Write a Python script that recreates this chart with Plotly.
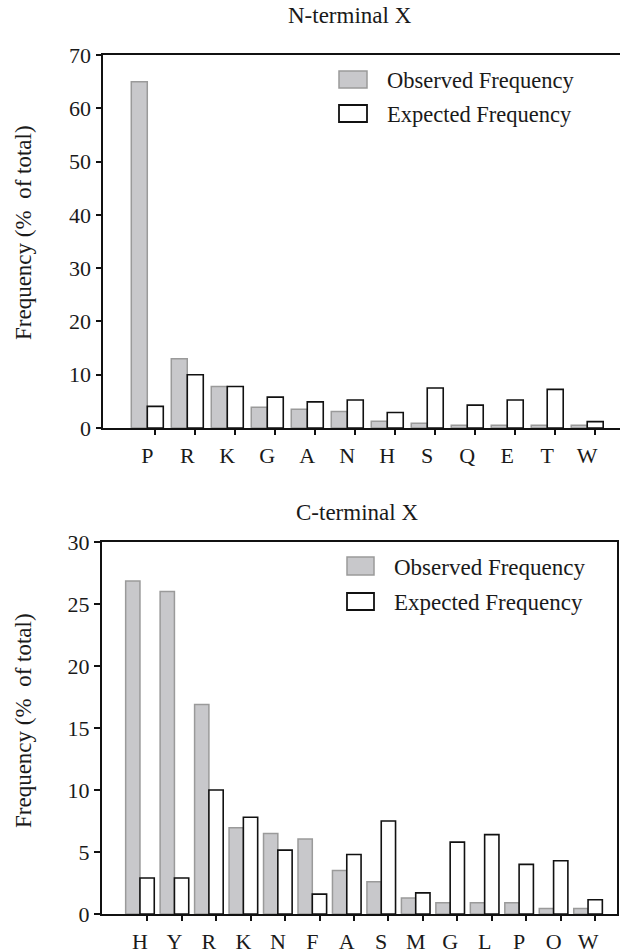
import plotly.graph_objects as go

# ---- data ----
n_cats = ["P", "R", "K", "G", "A", "N", "H", "S", "Q", "E", "T", "W"]
n_observed = [65, 13, 7.8, 3.9, 3.5, 3.1, 1.25, 0.9, 0.5, 0.5, 0.5, 0.5]
n_expected = [4.05, 10, 7.8, 5.8, 4.9, 5.25, 2.9, 7.5, 4.3, 5.25, 7.25, 1.2]

c_cats = ["H", "Y", "R", "K", "N", "F", "A", "S", "M", "G", "L", "P", "O", "W"]
c_observed = [26.85, 26, 16.9, 6.95, 6.5, 6.05, 3.5, 2.6, 1.3, 0.9, 0.9, 0.9, 0.45, 0.45]
c_expected = [2.9, 2.9, 10, 7.8, 5.15, 1.6, 4.8, 7.5, 1.7, 5.8, 6.4, 4.0, 4.3, 1.15]

n_yticks = [0, 10, 20, 30, 40, 50, 60, 70]
c_yticks = [0, 5, 10, 15, 20, 25, 30]

W, H = 620, 951
FONT = "Liberation Serif, Times New Roman, serif"
TXT = "#1a1a1a"
OBS_FILL = "#c8c8cb"
OBS_LINE = "#9a9a9a"

def px(x):
    return x / W

def py(y):
    return 1 - y / H

fig = go.Figure()

# panel geometry (pixels)
t_left, t_right, t_top, t_bot = 103.3, 620, 55, 428
b_left, b_right, b_top, b_bot = 101.7, 617, 542, 914

nx = list(range(len(n_cats)))
cx = list(range(len(c_cats)))

fig.add_trace(go.Bar(x=nx, y=n_observed, width=0.4, offset=-0.4,
                     marker=dict(color=OBS_FILL, line=dict(color=OBS_LINE, width=1.5)),
                     xaxis="x", yaxis="y", showlegend=False))
fig.add_trace(go.Bar(x=nx, y=n_expected, width=0.4, offset=0,
                     marker=dict(color="white", line=dict(color="#111", width=1.6)),
                     xaxis="x", yaxis="y", showlegend=False))
fig.add_trace(go.Bar(x=cx, y=c_observed, width=0.415, offset=-0.415,
                     marker=dict(color=OBS_FILL, line=dict(color=OBS_LINE, width=1.5)),
                     xaxis="x2", yaxis="y2", showlegend=False))
fig.add_trace(go.Bar(x=cx, y=c_expected, width=0.415, offset=0,
                     marker=dict(color="white", line=dict(color="#111", width=1.6)),
                     xaxis="x2", yaxis="y2", showlegend=False))
# invisible carriers so the tick-mark overlay axes get drawn
fig.add_trace(go.Scatter(x=nx, y=n_expected, mode="markers", marker=dict(opacity=0),
                         hoverinfo="skip", xaxis="x3", yaxis="y", showlegend=False))
fig.add_trace(go.Scatter(x=cx, y=c_expected, mode="markers", marker=dict(opacity=0),
                         hoverinfo="skip", xaxis="x4", yaxis="y2", showlegend=False))

n_range = [-1.1, 11.82]
c_range = [-1.11, 13.84]
tickfont = dict(family=FONT, size=22, color=TXT)

fig.update_layout(
    width=W, height=H,
    margin=dict(l=0, r=0, t=0, b=0),
    paper_bgcolor="white", plot_bgcolor="white",
    barmode="overlay",
    xaxis=dict(domain=[px(t_left), px(t_right)], range=n_range, anchor="y",
               tickvals=nx, ticktext=n_cats, ticks="", showgrid=False, zeroline=False,
               showline=True, linecolor="#111", linewidth=2, mirror=True,
               tickfont=tickfont, ticklabelstandoff=7, automargin=False),
    yaxis=dict(domain=[py(t_bot), py(t_top)], range=[0, 70], anchor="x",
               tickvals=n_yticks, ticks="outside", ticklen=6, tickwidth=1.5, tickcolor="#111",
               showgrid=False, zeroline=False, showline=True, linecolor="#111", linewidth=1.6,
               tickfont=tickfont, automargin=False),
    xaxis3=dict(overlaying="x", anchor="y", side="bottom", range=n_range,
                tickvals=[v + 0.2 for v in nx], ticks="outside", ticklen=6, tickwidth=1.6,
                tickcolor="#111", showticklabels=False, showgrid=False, zeroline=False,
                showline=False),
    xaxis2=dict(domain=[px(b_left), px(b_right)], range=c_range, anchor="y2",
                tickvals=cx, ticktext=c_cats, ticks="", showgrid=False, zeroline=False,
                showline=True, linecolor="#111", linewidth=2, mirror=True,
                tickfont=tickfont, ticklabelstandoff=7, automargin=False),
    yaxis2=dict(domain=[py(b_bot), py(b_top)], range=[0, 30], anchor="x2",
                tickvals=c_yticks, ticks="outside", ticklen=6, tickwidth=1.5, tickcolor="#111",
                showgrid=False, zeroline=False, showline=True, linecolor="#111", linewidth=1.6,
                mirror=True, tickfont=tickfont, automargin=False),
    xaxis4=dict(overlaying="x2", anchor="y2", side="bottom", range=c_range,
                tickvals=[v + 0.21 for v in cx], ticks="outside", ticklen=6, tickwidth=1.6,
                tickcolor="#111", showticklabels=False, showgrid=False, zeroline=False,
                showline=False),
)

annotations = []
shapes = []

def add_text(text, x, y, size, xanchor="center", angle=0):
    annotations.append(dict(text=text, x=px(x), y=py(y), xref="paper", yref="paper",
                            xanchor=xanchor, yanchor="middle", showarrow=False,
                            textangle=angle, font=dict(family=FONT, size=size, color=TXT)))

add_text("N-terminal X", 350, 15, 23)
add_text("C-terminal X", 357, 512, 23)
ylabel = "Frequency (%\u00a0 of total)"
add_text(ylabel, 23, 233, 23, angle=-90)
add_text(ylabel, 23, 721, 23, angle=-90)

def legend(box_x0, box_x1, rows, text_x, size):
    labels = [("Observed Frequency", OBS_FILL, OBS_LINE, 1.5),
              ("Expected Frequency", "white", "#111", 1.8)]
    for (lab, fill, line, lw), (y0, y1) in zip(labels, rows):
        shapes.append(dict(type="rect", xref="paper", yref="paper",
                           x0=px(box_x0), x1=px(box_x1), y0=py(y1), y1=py(y0),
                           fillcolor=fill, line=dict(color=line, width=lw)))
        add_text(lab, text_x, (y0 + y1) / 2 + 1, size, xanchor="left")

legend(339, 367, [(71, 88), (105, 122)], 385, 22.5)
legend(347, 374, [(557, 575), (593, 610)], 392, 23)

fig.update_layout(annotations=annotations, shapes=shapes)

fig.write_html("out.html",
               config={"displayModeBar": False},
               post_script="document.body.style.margin='0';document.body.style.overflow='hidden';")
